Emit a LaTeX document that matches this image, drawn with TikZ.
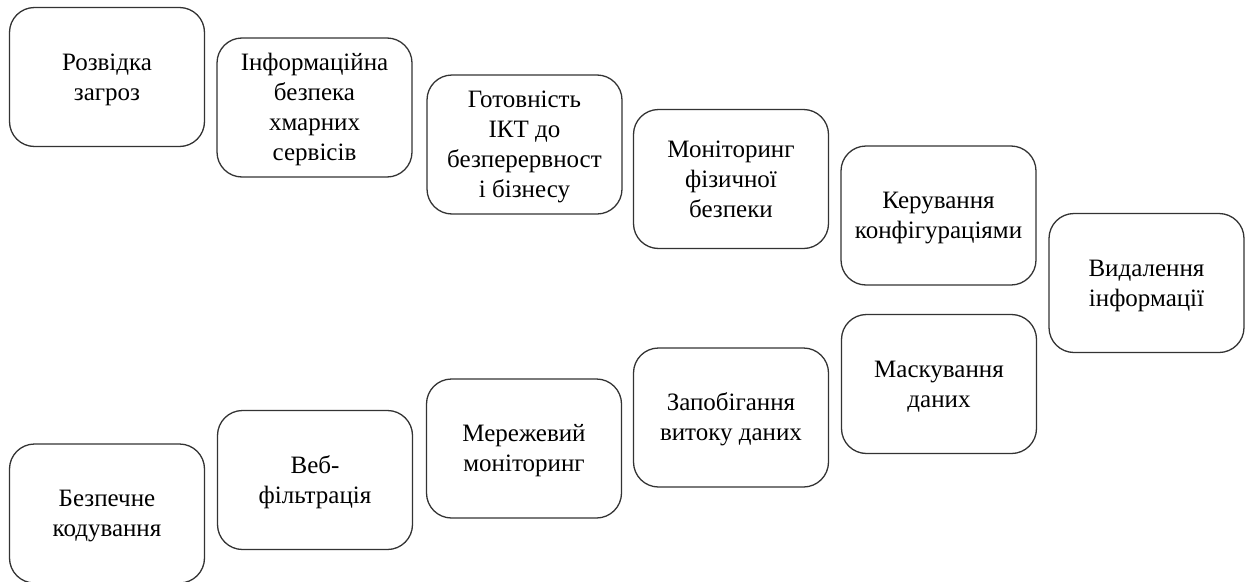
\documentclass[tikz,border=0pt]{standalone}
\usepackage{fontspec}
\setmainfont{Liberation Serif}
\newcommand{\ts}{\rule{0pt}{22pt}}
\newcommand{\bs}{\rule[-22pt]{0pt}{22pt}}
\begin{document}
\begin{tikzpicture}[x=1pt,y=-1pt,
  card/.style={draw=black!80, line width=1.3pt, rounded corners=25pt,
    minimum width=195pt, minimum height=139pt, inner sep=0pt},
  txt/.style={inner sep=0pt, align=center, font=\fontsize{25}{30}\selectfont}]
\useasboundingbox (0,0) rectangle (1250,581);
\node[card] (n1) at (107,77) {};
\node[card] (n2) at (314.5,107.5) {};
\node[card] (n3) at (524.5,144.5) {};
\node[card] (n4) at (731,179) {};
\node[card] (n5) at (938.5,215.5) {};
\node[card] (n6) at (1146.5,283) {};
\node[card] (n7) at (939,384) {};
\node[card] (n8) at (731,417.5) {};
\node[card] (n9) at (524,448.5) {};
\node[card] (n10) at (315,480) {};
\node[card] (n11) at (107,513.5) {};
\node[txt] (t1) at ([yshift=-8pt]n1.center) {\ts Розвідка\\загроз\bs};
\node[txt] (t2) at ([yshift=-8pt]n2.center) {\ts Інформаційна\\безпека\\хмарних\\сервісів\bs};
\node[txt] (t3) at ([yshift=-8pt]n3.center) {\ts Готовність\\ІКТ до\\безперервност\\і бізнесу\bs};
\node[txt] (t4) at ([yshift=-8pt]n4.center) {\ts Моніторинг\\фізичної\\безпеки\bs};
\node[txt] (t5) at ([yshift=-8pt]n5.center) {\ts Керування\\конфігураціями\bs};
\node[txt] (t6) at ([yshift=-8pt]n6.center) {\ts Видалення\\інформації\bs};
\node[txt] (t7) at ([yshift=-8pt]n7.center) {\ts Маскування\\даних\bs};
\node[txt] (t8) at ([yshift=-8pt]n8.center) {\ts Запобігання\\витоку даних\bs};
\node[txt] (t9) at ([yshift=-8pt]n9.center) {\ts Мережевий\\моніторинг\bs};
\node[txt] (t10) at ([yshift=-8pt]n10.center) {\ts Веб-\\фільтрація\bs};
\node[txt] (t11) at ([yshift=-8pt]n11.center) {\ts Безпечне\\кодування\bs};
\end{tikzpicture}
\end{document}
